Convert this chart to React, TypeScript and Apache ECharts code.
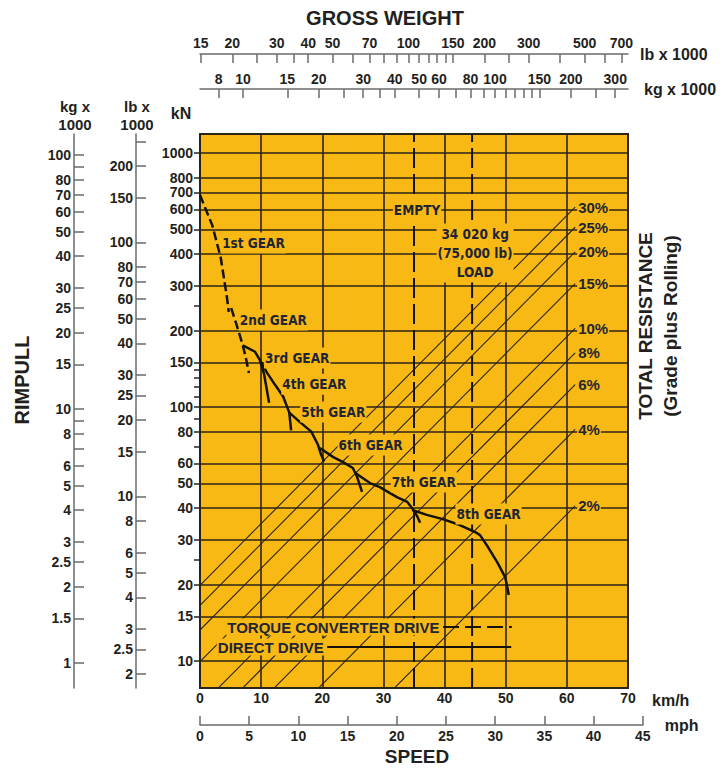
import React, { useEffect, useRef } from "react";
import * as echarts from "echarts";

// ---------- axis ranges ----------
const KMH_MAX = 70;
const MPH_MAX = 45;
const KN_MIN = 7.83;
const KN_MAX = 1188;
const TONNE_MIN = 6.752;
const TONNE_MAX = 337.1;

// ---------- unit conversions ----------
const KGF_T_PER_KN = 0.101972;
const KLBF_PER_KN = 0.224809;
const LB_PER_KG = 2.20462;
const KMH_PER_MPH = 1.609344;
const G_KN_PER_TONNE = 9.81;

// ---------- tick values ----------
const knLabels = [10, 15, 20, 30, 40, 50, 60, 80, 100, 150, 200, 300, 400, 500, 600, 700, 800, 1000];
const knTicks = [...knLabels, 25, 70, 90, 110, 120, 130, 140, 250];
const knGridValues = [10, 15, 20, 30, 40, 50, 60, 80, 100, 150, 200, 300, 400, 500, 600, 700, 800, 1000];
const lbRimpullLabels = [2, 2.5, 3, 4, 5, 6, 8, 10, 15, 20, 25, 30, 40, 50, 60, 70, 80, 100, 150, 200];
const lbRimpullTicks = [...lbRimpullLabels, 250];
const kgRimpullLabels = [1, 1.5, 2, 2.5, 3, 4, 5, 6, 8, 10, 15, 20, 25, 30, 40, 50, 60, 70, 80, 100];
const kgRimpullTicks = [...kgRimpullLabels, 7, 9, 90];
const lbWeightLabels = [15, 20, 30, 40, 50, 70, 100, 150, 200, 300, 500, 700];
const lbWeightTicks = [15, 20, 25, 30, 35, 40, 50, 60, 70, 80, 90, 100, 110, 120, 130, 140, 150, 200, 250, 300, 400, 500, 600, 700];
const kgWeightLabels = [8, 10, 15, 20, 30, 40, 50, 60, 80, 100, 150, 200, 300];
const kgWeightTicks = [8, 10, 15, 20, 25, 30, 35, 40, 50, 60, 70, 80, 90, 100, 110, 120, 130, 140, 150, 200, 250, 300];

// ---------- total resistance (grade) lines ----------
const gradesPct = [2, 4, 6, 8, 10, 15, 20, 25, 30];
const GRADE_LINE_END_T = 208;

// ---------- rimpull curves (km/h, kN) ----------
const gear1KmH = [0, 2.0, 3.4, 4.4, 4.7];
const gear1KN = [683, 520, 386, 271, 237];
const gear2KmH = [5.1, 6.0, 7.0, 7.5, 8.0];
const gear2KN = [245, 210, 175, 156, 136];
const gear3KmH = [7.0, 9.0, 9.8, 10.5, 11.3];
const gear3KN = [175, 165, 153, 134, 104];
const gear4KmH = [9.8, 11.0, 12.3, 13.6, 14.6, 14.9];
const gear4KN = [153, 136, 122, 110, 95, 81];
const gear5KmH = [14.6, 16.4, 18.2, 19.3, 19.8, 20.3];
const gear5KN = [95, 87, 80, 71, 65, 61];
const gear6KmH = [19.6, 21.8, 23.4, 25.0, 25.7, 26.5];
const gear6KN = [69, 63.5, 60.7, 57.5, 53, 46.3];
const gear7KmH = [25.4, 27.8, 29.4, 32.2, 33.9, 34.8, 35.5, 36.0];
const gear7KN = [55, 50.2, 48.4, 44.2, 42.3, 39.7, 37.2, 35];
const gear8KmH = [34.7, 37.1, 39.7, 42.5, 45.0, 45.8, 47.1, 48.7, 49.9, 50.2, 50.5];
const gear8KN = [39.3, 37.6, 36.2, 34.3, 32.2, 31.3, 28.1, 24.3, 21.4, 19.9, 18.2];

const gears = [
  { speed: gear1KmH, rimpull: gear1KN, torque: true },
  { speed: gear2KmH, rimpull: gear2KN, torque: true },
  { speed: gear3KmH, rimpull: gear3KN, torque: false },
  { speed: gear4KmH, rimpull: gear4KN, torque: false },
  { speed: gear5KmH, rimpull: gear5KN, torque: false },
  { speed: gear6KmH, rimpull: gear6KN, torque: false },
  { speed: gear7KmH, rimpull: gear7KN, torque: false },
  { speed: gear8KmH, rimpull: gear8KN, torque: false },
];

// ---------- vertical weight lines ----------
const EMPTY_KMH = 35;
const LOAD_KMH = 44.5;

// ---------- annotations ----------
const noteTexts = ["1st GEAR", "2nd GEAR", "3rd GEAR", "4th GEAR", "5th GEAR", "6th GEAR", "7th GEAR", "8th GEAR", "EMPTY", "34 020 kg\n(75,000 lb)\nLOAD"];
const noteKmH = [8.75, 12.0, 15.9, 18.7, 21.8, 27.9, 36.6, 47.2, 35.5, 45.0];
const noteKN = [442, 220, 156, 123, 95.6, 70.8, 50.7, 37.9, 597, 404];

const legendTexts = ["TORQUE CONVERTER DRIVE", "DIRECT DRIVE"];
const legendStartKmH = [39.75, 20.8];
const legendEndKmH = [51.0, 50.9];
const legendKN = [13.6, 11.35];

// ---------- styles ----------
const ORANGE = "#F8B914";
const DARK = "#2b2418";
const AXIS_GRAY = "#6a6a6a";
const TXT = "#231f20";
const TXT_IN = "#1f2535";
const SANS = '"Liberation Sans", Arial, Helvetica, sans-serif';
const NARROW = '"Liberation Sans Narrow", "DejaVu Sans Condensed", "Liberation Sans", sans-serif';

const GRID_LEFT = 200;
const GRID_TOP = 134;
const GRID_W = 428;
const GRID_H = 554;
const MPH_GRID_W = (GRID_W * MPH_MAX * KMH_PER_MPH) / KMH_MAX;

const fmt = (v: number) => String(Math.round(v * 10) / 10);
const numLabel = { color: TXT, fontSize: 14, fontWeight: "bold" as const, fontFamily: SANS, formatter: fmt };

function resistanceKN(gradePct: number, tonnes: number) {
  return (gradePct / 100) * tonnes * G_KN_PER_TONNE;
}

export default function App() {
  const ref = useRef<HTMLDivElement>(null);

  useEffect(() => {
    if (!ref.current) return;
    const chart = echarts.init(ref.current, undefined, { renderer: "svg" });

    const gradeSeries = gradesPct.map((g) => ({
      type: "line",
      xAxisIndex: 1,
      yAxisIndex: 0,
      symbol: "none",
      silent: true,
      z: 3,
      data: [
        [TONNE_MIN, resistanceKN(g, TONNE_MIN)],
        [GRADE_LINE_END_T, resistanceKN(g, GRADE_LINE_END_T)],
      ],
      lineStyle: { color: DARK, width: 1.1 },
      endLabel: {
        show: true,
        formatter: `${g}%`,
        distance: 2,
        color: TXT_IN,
        fontSize: 15,
        fontWeight: "bold",
        fontFamily: SANS,
        backgroundColor: ORANGE,
        padding: [0, 1],
      },
    }));

    const gearSeries = gears.map((gr) => ({
      type: "line",
      xAxisIndex: 0,
      yAxisIndex: 0,
      symbol: "none",
      silent: true,
      z: 5,
      data: gr.speed.map((s, i) => [s, gr.rimpull[i]]),
      lineStyle: { color: "#15110b", width: 2.5, type: gr.torque ? [9, 4] : "solid" },
    }));

    const weightLineSeries = [EMPTY_KMH, LOAD_KMH].map((k) => ({
      type: "line",
      xAxisIndex: 0,
      yAxisIndex: 0,
      symbol: "none",
      silent: true,
      z: 4,
      data: [
        [k, KN_MIN],
        [k, KN_MAX],
      ],
      lineStyle: { color: "#15110b", width: 2, type: [20, 6] },
    }));

    const legendLineSeries = legendTexts.map((_, i) => ({
      type: "line",
      xAxisIndex: 0,
      yAxisIndex: 0,
      symbol: "none",
      silent: true,
      z: 6,
      data: [
        [legendStartKmH[i], legendKN[i]],
        [legendEndKmH[i], legendKN[i]],
      ],
      lineStyle: { color: "#15110b", width: 2, type: i === 0 ? [16, 6] : "solid" },
    }));

    const option: any = {
      animation: false,
      backgroundColor: "#ffffff",
      textStyle: { fontFamily: SANS },
      grid: [
        {
          left: GRID_LEFT,
          top: GRID_TOP,
          width: GRID_W,
          height: GRID_H,
          show: true,
          backgroundColor: ORANGE,
          borderColor: DARK,
          borderWidth: 2,
        },
        { left: GRID_LEFT, top: 700, width: MPH_GRID_W, height: 25, show: false },
      ],
      xAxis: [
        {
          type: "value",
          gridIndex: 0,
          min: 0,
          max: KMH_MAX,
          interval: 10,
          position: "bottom",
          axisLine: { show: false },
          axisTick: { show: false },
          axisLabel: { ...numLabel, margin: 3 },
          splitLine: { show: true, lineStyle: { color: DARK, width: 1.6 } },
          name: "km/h",
          nameLocation: "end",
          nameGap: 24,
          nameTextStyle: { color: TXT, fontSize: 16, fontWeight: "bold", fontFamily: SANS, verticalAlign: "top", padding: [4, 0, 0, 0] },
        },
        {
          type: "log",
          gridIndex: 0,
          min: TONNE_MIN,
          max: TONNE_MAX,
          position: "top",
          offset: 45,
          axisLine: { show: true, lineStyle: { color: AXIS_GRAY, width: 1.5 } },
          axisTick: { show: true, inside: true, length: 9, customValues: kgWeightTicks, lineStyle: { color: AXIS_GRAY, width: 1.5 } },
          axisLabel: { ...numLabel, margin: 3, customValues: kgWeightLabels },
          splitLine: { show: false },
          name: "kg x 1000",
          nameLocation: "end",
          nameGap: 16,
          nameTextStyle: { color: TXT, fontSize: 16, fontWeight: "bold", fontFamily: SANS, padding: [0, 0, 6, 0] },
        },
        {
          type: "log",
          gridIndex: 0,
          min: TONNE_MIN * LB_PER_KG,
          max: TONNE_MAX * LB_PER_KG,
          position: "top",
          offset: 80,
          axisLine: { show: true, lineStyle: { color: AXIS_GRAY, width: 1.5 } },
          axisTick: { show: true, inside: true, length: 9, customValues: lbWeightTicks, lineStyle: { color: AXIS_GRAY, width: 1.5 } },
          axisLabel: { ...numLabel, margin: 4, customValues: lbWeightLabels },
          splitLine: { show: false },
          name: "lb x 1000",
          nameLocation: "end",
          nameGap: 12,
          nameTextStyle: { color: TXT, fontSize: 16, fontWeight: "bold", fontFamily: SANS, padding: [0, 0, 18, 0] },
        },
        {
          type: "value",
          gridIndex: 1,
          min: 0,
          max: MPH_MAX,
          interval: 5,
          position: "bottom",
          axisLine: { show: true, lineStyle: { color: AXIS_GRAY, width: 1.5 } },
          axisTick: { show: true, inside: true, length: 9, lineStyle: { color: AXIS_GRAY, width: 1.5 } },
          axisLabel: { ...numLabel, margin: 4 },
          splitLine: { show: false },
          name: "mph",
          nameLocation: "end",
          nameGap: 22,
          nameTextStyle: { color: TXT, fontSize: 16, fontWeight: "bold", fontFamily: SANS },
        },
      ],
      yAxis: [
        {
          type: "log",
          gridIndex: 0,
          min: KN_MIN,
          max: KN_MAX,
          position: "left",
          offset: 0,
          axisLine: { show: false },
          axisTick: { show: true, inside: false, length: 6, customValues: knTicks, lineStyle: { color: DARK, width: 1.5 } },
          axisLabel: { ...numLabel, margin: 7, customValues: knLabels },
          splitLine: { show: false },
        },
        {
          type: "log",
          gridIndex: 0,
          min: KN_MIN * KLBF_PER_KN,
          max: KN_MAX * KLBF_PER_KN,
          position: "left",
          offset: 64,
          axisLine: { show: true, lineStyle: { color: AXIS_GRAY, width: 1.5 } },
          axisTick: { show: true, inside: true, length: 10, customValues: lbRimpullTicks, lineStyle: { color: AXIS_GRAY, width: 1.5 } },
          axisLabel: { ...numLabel, margin: 3, customValues: lbRimpullLabels },
          splitLine: { show: false },
        },
        {
          type: "log",
          gridIndex: 0,
          min: KN_MIN * KGF_T_PER_KN,
          max: KN_MAX * KGF_T_PER_KN,
          position: "left",
          offset: 126,
          axisLine: { show: true, lineStyle: { color: AXIS_GRAY, width: 1.5 } },
          axisTick: { show: true, inside: true, length: 10, customValues: kgRimpullTicks, lineStyle: { color: AXIS_GRAY, width: 1.5 } },
          axisLabel: { ...numLabel, margin: 3, customValues: kgRimpullLabels },
          splitLine: { show: false },
        },
        {
          type: "log",
          gridIndex: 0,
          min: KN_MIN,
          max: KN_MAX,
          position: "right",
          axisLine: { show: false },
          axisTick: { show: false, customValues: knGridValues },
          axisLabel: { show: false, customValues: knGridValues },
          splitLine: { show: true, lineStyle: { color: DARK, width: 1.6 } },
        },
        { type: "value", gridIndex: 1, show: false, min: 0, max: 1 },
      ],
      graphic: [
        { type: "text", x: 385, y: 18, style: { text: "GROSS WEIGHT", align: "center", verticalAlign: "middle", fill: TXT, fontSize: 20, fontWeight: "bold", fontFamily: SANS } },
        { type: "text", x: 417, y: 756, style: { text: "SPEED", align: "center", verticalAlign: "middle", fill: TXT, fontSize: 19, fontWeight: "bold", fontFamily: SANS } },
        { type: "text", x: 22, y: 380, rotation: Math.PI / 2, style: { text: "RIMPULL", align: "center", verticalAlign: "middle", fill: TXT, fontSize: 20, fontWeight: "bold", fontFamily: SANS } },
        { type: "text", x: 645, y: 326, rotation: Math.PI / 2, style: { text: "TOTAL RESISTANCE", align: "center", verticalAlign: "middle", fill: TXT, fontSize: 19, fontWeight: "bold", fontFamily: SANS } },
        { type: "text", x: 670, y: 326, rotation: Math.PI / 2, style: { text: "(Grade plus Rolling)", align: "center", verticalAlign: "middle", fill: TXT, fontSize: 19, fontWeight: "bold", fontFamily: SANS } },
        { type: "text", x: 75, y: 115, style: { text: "kg x\n1000", align: "center", verticalAlign: "middle", lineHeight: 18, fill: TXT, fontSize: 15, fontWeight: "bold", fontFamily: SANS } },
        { type: "text", x: 137, y: 115, style: { text: "lb x\n1000", align: "center", verticalAlign: "middle", lineHeight: 18, fill: TXT, fontSize: 15, fontWeight: "bold", fontFamily: SANS } },
        { type: "text", x: 181, y: 113, style: { text: "kN", align: "center", verticalAlign: "middle", fill: TXT, fontSize: 16, fontWeight: "bold", fontFamily: SANS } },
      ],
      series: [
        ...gradeSeries,
        ...weightLineSeries,
        ...gearSeries,
        ...legendLineSeries,
        {
          type: "scatter",
          xAxisIndex: 0,
          yAxisIndex: 0,
          symbolSize: 1,
          silent: true,
          z: 20,
          itemStyle: { color: "transparent", opacity: 1 },
          data: noteTexts.map((t, i) => ({ name: t, value: [noteKmH[i], noteKN[i]] })),
          label: {
            show: true,
            position: "inside",
            formatter: "{b}",
            color: TXT_IN,
            opacity: 1,
            fontSize: 13.5,
            fontWeight: "bold",
            fontFamily: NARROW,
            backgroundColor: ORANGE,
            padding: [1, 1],
            lineHeight: 19,
            align: "center",
          },
        },
        {
          type: "scatter",
          xAxisIndex: 0,
          yAxisIndex: 0,
          symbolSize: 1,
          silent: true,
          z: 20,
          itemStyle: { color: "transparent", opacity: 1 },
          data: legendTexts.map((t, i) => ({ name: t, value: [legendStartKmH[i], legendKN[i]] })),
          label: {
            show: true,
            position: "left",
            distance: 2,
            formatter: "{b}",
            color: TXT_IN,
            opacity: 1,
            fontSize: 15,
            fontWeight: "bold",
            fontFamily: SANS,
            backgroundColor: ORANGE,
            padding: [1, 1],
          },
        },
      ],
    };

    chart.setOption(option);
    return () => chart.dispose();
  }, []);

  return (
    <div
      ref={ref}
      style={{ position: "fixed", left: 0, top: 0, width: 727, height: 768, background: "#fff" }}
    />
  );
}
